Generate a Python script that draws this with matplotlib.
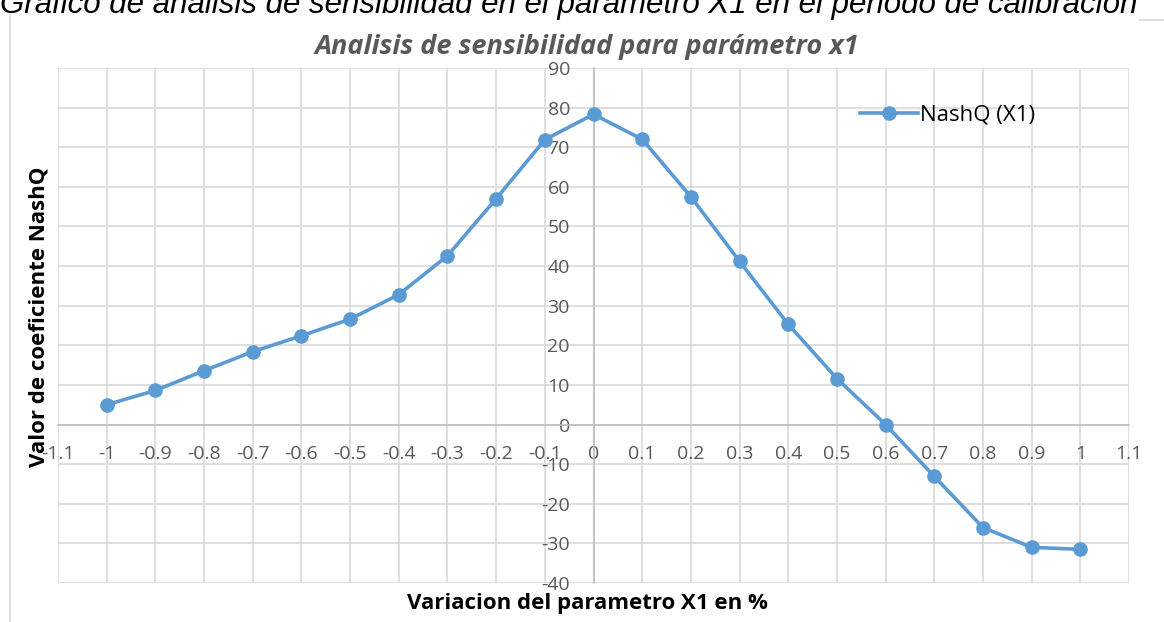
import numpy as np
import matplotlib.pyplot as plt
from matplotlib.lines import Line2D

plt.rcParams['font.family'] = ['Open Sans', 'DejaVu Sans']

# datos del analisis de sensibilidad
variacion_x1 = [-1.0, -0.9, -0.8, -0.7, -0.6, -0.5, -0.4, -0.3, -0.2, -0.1,
                0.0, 0.1, 0.2, 0.3, 0.4, 0.5, 0.6, 0.7, 0.8, 0.9, 1.0]
nashq_x1 = [5.0, 8.6, 13.6, 18.4, 22.4, 26.6, 32.8, 42.6, 57.0, 71.9,
            78.3, 72.0, 57.5, 41.2, 25.3, 11.6, 0.0, -13.1, -26.0, -31.0, -31.5]

x_ticks = np.round(np.arange(-1.1, 1.11, 0.1), 1)
y_ticks = np.arange(-40, 91, 10)

gris = '#595959'
azul = '#5b9bd5'

fig = plt.figure(figsize=(11.64, 6.22), dpi=100)
ax = fig.add_axes([58 / 1164, 1 - 583 / 622, (1129 - 58) / 1164, (583 - 68) / 622])

ax.plot(variacion_x1, nashq_x1, color=azul, lw=2.6, marker='o', ms=9.5,
        label='NashQ (X1)', zorder=5, clip_on=False)

ax.set_xlim(-1.1, 1.1)
ax.set_ylim(-40, 90)
ax.set_xticks(x_ticks)
ax.set_yticks(y_ticks)
ax.set_xticklabels(['{:g}'.format(v) for v in x_ticks])
ax.set_yticklabels(['{:d}'.format(v) for v in y_ticks])
ax.grid(True, color='#d9d9d9', lw=1.2)
ax.set_axisbelow(True)

# ejes cruzando en el origen
ax.spines['left'].set_position(('data', 0))
ax.spines['bottom'].set_position(('data', 0))
ax.spines['top'].set_visible(False)
ax.spines['right'].set_visible(False)
for lado in ['left', 'bottom']:
    ax.spines[lado].set_color('#bfbfbf')
    ax.spines[lado].set_linewidth(1.2)
ax.tick_params(length=0, labelsize=14, colors=gris)
ax.tick_params(axis='x', pad=15)
ax.tick_params(axis='y', pad=17)

fig.text(39 / 1164, 1 - 317 / 622, 'Valor de coeficiente NashQ', rotation=90, ha='center', va='center',
         fontsize=16, fontweight='bold', color='black')
fig.text(587 / 1164, 1 - 604 / 622, 'Variacion del parametro X1 en %', ha='center', va='center',
         fontsize=16, fontweight='bold', color='black')
fig.text(587 / 1164, 1 - 47 / 622, 'Analisis de sensibilidad para parámetro x1', ha='center',
         va='center', fontsize=19.5, fontweight='bold', style='italic', color=gris)

# titulo del documento, cortado arriba
fig.text(0.0, 1 - 13 / 622, 'Gráfico de análisis de sensibilidad en el parámetro X1 en el periodo de calibración',
         ha='left', va='baseline', fontsize=22.5, style='italic', color='black',
         family=['Liberation Sans', 'DejaVu Sans'])

fig.add_artist(Line2D([10 / 1164, 10 / 1164], [0, 1 - 15 / 622], color='#d9d9d9', lw=1.2))
fig.add_artist(Line2D([1140 / 1164, 1], [1 - 20 / 622, 1 - 20 / 622], color='#d9d9d9', lw=1.2))

ax.legend(loc='center left', bbox_to_anchor=(860 / 1164, 1 - 115 / 622), bbox_transform=fig.transFigure,
          frameon=False, fontsize=16, borderpad=0, borderaxespad=0,
          handlelength=2.6, handletextpad=0.1)

fig.savefig('out.png', dpi=100)
